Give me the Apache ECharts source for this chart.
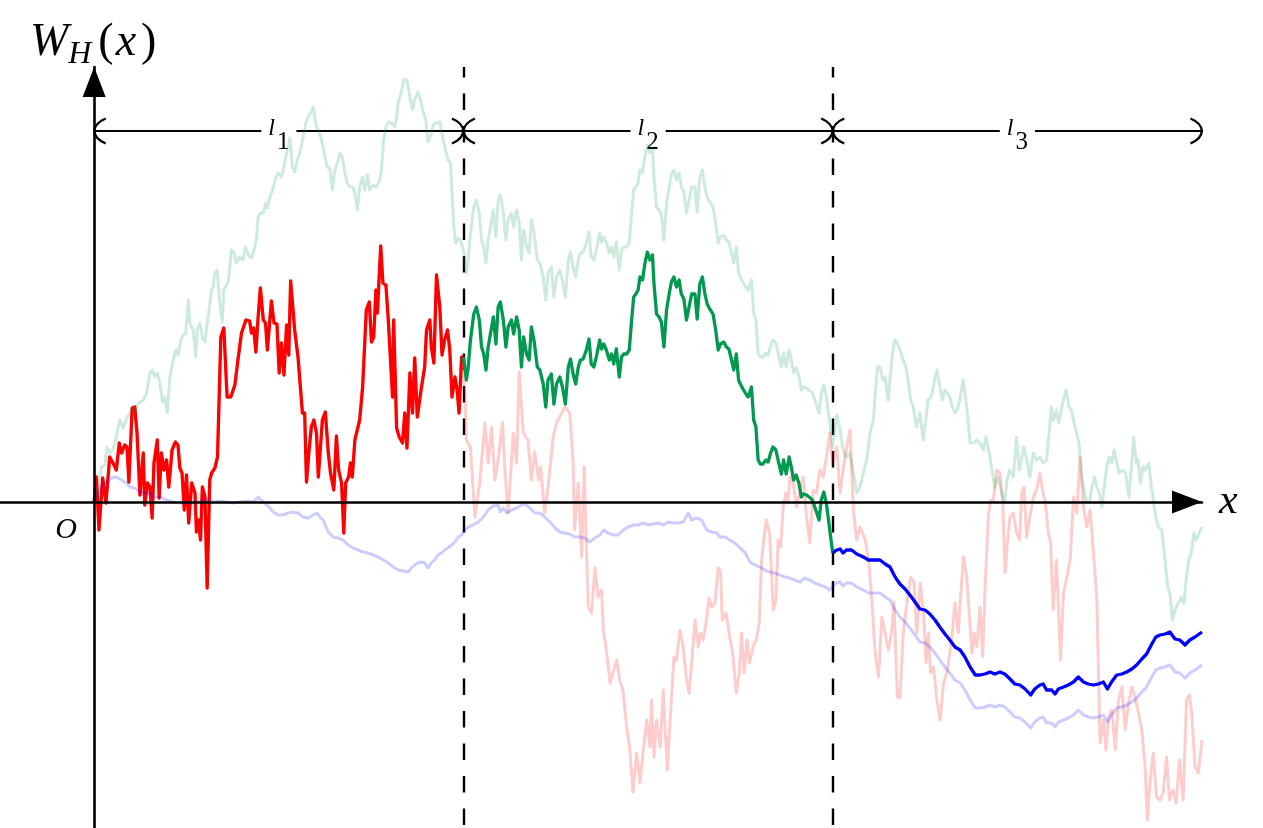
<!DOCTYPE html>
<html>
<head>
<meta charset="utf-8">
<script src="https://cdn.jsdelivr.net/npm/echarts@6/dist/echarts.min.js"></script>
<style>
  html, body { margin: 0; padding: 0; background: #fff; }
  #main { width: 1263px; height: 828px; }
</style>
</head>
<body>
<div id="main"></div>
<script>
// three sample paths of W_H(x) (x in units of one segment l)
const redPath = [
  [0,0],[0.006,0.25],[0.013,-0.28],[0.023,0.24],[0.032,-0.01],[0.042,0.45],[0.051,0.39],[0.060,0.32],[0.068,0.59],[0.074,0.49],
  [0.083,0.57],[0.089,0.55],[0.094,0.20],[0.103,0.94],[0.110,0.95],[0.116,0.69],[0.124,0.07],[0.133,0.49],[0.137,-0.03],[0.144,0.19],
  [0.151,0.15],[0.157,-0.16],[0.162,0.39],[0.171,0.62],[0.176,0.04],[0.182,0.49],[0.189,0.32],[0.196,0.42],[0.202,0.15],[0.211,0.52],
  [0.220,0.60],[0.227,0.57],[0.232,0.34],[0.238,0.29],[0.244,-0.08],[0.250,0.27],[0.256,-0.21],[0.264,0.19],[0.273,0.09],[0.277,-0.30],
  [0.283,-0.18],[0.288,-0.38],[0.293,0.15],[0.300,0.05],[0.306,-0.86],[0.313,0.22],[0.318,0.29],[0.327,0.34],[0.334,0.45],[0.343,1.65],
  [0.351,1.74],[0.360,1.05],[0.370,1.05],[0.381,1.17],[0.390,1.44],[0.399,1.69],[0.411,1.82],[0.421,1.81],[0.426,1.69],[0.432,1.74],
  [0.438,1.50],[0.444,1.85],[0.450,2.14],[0.458,1.82],[0.464,1.79],[0.469,1.52],[0.480,2.01],[0.487,1.79],[0.495,1.78],[0.501,1.29],
  [0.507,1.59],[0.514,1.27],[0.521,1.77],[0.527,1.47],[0.532,2.21],[0.543,1.72],[0.552,1.45],[0.564,0.89],[0.570,0.89],[0.575,0.20],
  [0.582,0.52],[0.588,0.75],[0.595,0.82],[0.602,0.69],[0.607,0.25],[0.618,0.82],[0.626,0.90],[0.634,0.49],[0.640,0.29],[0.649,0.12],
  [0.656,0.66],[0.662,0.32],[0.670,0.19],[0.676,-0.31],[0.681,0.19],[0.689,0.25],[0.694,0.39],[0.699,0.25],[0.706,0.62],[0.719,0.82],
  [0.727,1.15],[0.737,1.92],[0.745,2.00],[0.751,1.60],[0.757,1.65],[0.763,2.12],[0.767,1.89],[0.776,2.56],[0.782,2.19],[0.790,2.17],
  [0.796,1.85],[0.808,1.05],[0.811,1.82],[0.819,0.74],[0.826,0.65],[0.835,0.59],[0.841,0.89],[0.847,0.54],[0.855,1.29],[0.862,0.89],
  [0.868,1.44],[0.875,0.85],[0.886,1.14],[0.895,1.35],[0.900,1.72],[0.909,1.82],[0.913,1.55],[0.920,1.39],[0.927,2.27],[0.936,1.95],
  [0.942,1.47],[0.949,1.62],[0.957,1.72],[0.963,1.52],[0.969,1.05],[0.977,1.25],[0.983,1.12],[0.988,0.89],[0.995,1.45],[1,1.45],
  [1.004,1.09],[1.008,0.62],[1.019,0.55],[1.031,-0.15],[1.045,0.22],[1.058,0.79],[1.067,0.39],[1.076,0.75],[1.085,0.22],[1.094,0.42],
  [1.106,0.80],[1.112,0.32],[1.121,-0.11],[1.135,0.69],[1.144,0.39],[1.151,1.30],[1.162,0.69],[1.175,0.62],[1.184,0.22],[1.193,0.50],
  [1.203,0.22],[1.209,0.35],[1.220,-0.11],[1.229,0.15],[1.243,0.65],[1.252,0.79],[1.275,0.95],[1.288,0.89],[1.297,0.39],[1.301,-0.28],
  [1.311,0.19],[1.320,-0.55],[1.327,0.35],[1.333,-0.45],[1.338,-1.05],[1.347,-1.11],[1.356,-0.66],[1.365,-0.95],[1.374,-0.88],[1.379,-1.28],
  [1.388,-1.51],[1.397,-1.81],[1.405,-1.71],[1.415,-1.58],[1.423,-1.78],[1.432,-1.88],[1.442,-2.25],[1.450,-2.45],[1.459,-2.90],[1.469,-2.51],
  [1.478,-2.81],[1.487,-2.48],[1.496,-2.18],[1.505,-2.45],[1.509,-1.98],[1.516,-2.55],[1.523,-2.18],[1.533,-2.45],[1.541,-1.88],[1.552,-2.68],
  [1.561,-2.11],[1.570,-1.55],[1.577,-1.58],[1.586,-1.28],[1.595,-1.45],[1.604,-1.78],[1.611,-1.91],[1.618,-1.61],[1.627,-1.18],[1.636,-1.45],
  [1.642,-1.31],[1.649,-1.38],[1.658,-1.18],[1.665,-0.96],[1.672,-1.05],[1.681,-1.01],[1.690,-0.66],[1.696,-0.68],[1.701,-1.18],[1.711,-1.11],
  [1.721,-1.35],[1.729,-1.51],[1.739,-1.91],[1.747,-1.71],[1.753,-1.31],[1.760,-1.71],[1.768,-1.38],[1.775,-1.61],[1.784,-1.45],[1.793,-1.38],
  [1.801,-1.21],[1.807,-0.61],[1.811,-0.45],[1.820,-0.18],[1.829,-0.31],[1.839,-1.08],[1.846,-0.98],[1.852,-0.38],[1.859,-0.45],[1.866,-0.05],
  [1.873,0.09],[1.879,-0.01],[1.884,0.25],[1.893,0.19],[1.902,-0.05],[1.911,0.09],[1.920,0.25],[1.929,-0.15],[1.938,-0.41],[1.947,0.12],
  [1.956,0.09],[1.965,0.32],[1.974,0.25],[1.983,0.45],[1.992,0.69],[2,0.39],
  [2.011,0.55],[2.020,0.09],[2.033,0.45],[2.047,0.72],[2.056,-0.08],[2.065,-0.38],[2.074,-0.25],[2.088,-0.38],[2.097,-0.58],[2.106,-0.98],
  [2.115,-1.51],[2.124,-1.75],[2.133,-1.15],[2.142,-1.31],[2.151,-1.48],[2.160,-1.28],[2.166,-1.00],[2.175,-1.95],[2.182,-1.96],[2.191,-1.31],
  [2.202,-0.98],[2.211,-0.75],[2.220,-0.80],[2.228,-1.31],[2.237,-0.81],[2.246,-1.11],[2.253,-1.61],[2.259,-1.31],[2.265,-1.71],[2.273,-1.65],
  [2.282,-1.98],[2.291,-2.18],[2.300,-1.81],[2.309,-1.71],[2.322,-1.38],[2.331,-1.01],[2.340,-1.31],[2.345,-1.01],[2.354,-0.55],[2.363,-0.75],
  [2.377,-1.51],[2.383,-1.31],[2.390,-1.45],[2.399,-1.05],[2.406,-1.55],[2.413,-0.81],[2.422,-0.11],[2.428,0.02],[2.435,0.02],[2.444,0.32],
  [2.453,0.29],[2.460,0.02],[2.467,-0.71],[2.473,-0.41],[2.480,-0.15],[2.489,-0.11],[2.498,-0.31],[2.506,-0.38],[2.512,0.09],[2.518,0.15],
  [2.525,-0.35],[2.534,-0.15],[2.543,0.05],[2.552,0.12],[2.561,0.29],[2.569,0.09],[2.575,0.02],[2.584,-0.31],[2.590,-0.41],[2.597,-1.08],
  [2.606,-0.58],[2.617,-1.58],[2.625,-0.91],[2.634,-0.75],[2.643,-0.58],[2.652,0.05],[2.661,-0.11],[2.670,0.45],[2.679,-0.05],[2.688,-0.25],
  [2.697,-0.08],[2.706,-0.51],[2.715,-0.95],[2.724,-2.41],[2.733,-2.18],[2.740,-2.48],[2.747,-2.15],[2.756,-2.08],[2.765,-2.48],[2.774,-1.98],
  [2.783,-1.85],[2.792,-2.28],[2.801,-2.01],[2.810,-1.85],[2.819,-1.95],[2.828,-2.11],[2.837,-2.28],[2.846,-2.65],[2.852,-3.18],[2.859,-2.81],
  [2.868,-2.51],[2.877,-2.95],[2.886,-2.98],[2.895,-2.91],[2.904,-2.55],[2.912,-2.98],[2.921,-2.88],[2.930,-3.01],[2.939,-2.58],[2.949,-2.98],
  [2.958,-1.98],[2.966,-1.93],[2.972,-2.11],[2.981,-2.65],[2.990,-2.71],[3,-2.38]
];

const greenPath = [
  [0,0],[0.011,0.15],[0.020,0.35],[0.029,0.37],[0.035,0.55],[0.042,0.49],[0.051,0.52],[0.060,0.65],[0.069,0.82],[0.079,0.74],
  [0.088,0.84],[0.097,0.89],[0.104,0.95],[0.110,0.90],[0.116,0.97],[0.124,1.00],[0.133,1.02],[0.142,1.09],[0.151,1.29],[0.158,1.32],
  [0.164,1.25],[0.171,1.29],[0.178,1.19],[0.185,1.00],[0.191,1.05],[0.198,0.89],[0.205,1.25],[0.214,1.42],[0.221,1.52],[0.227,1.47],
  [0.235,1.62],[0.241,1.67],[0.248,1.69],[0.255,2.02],[0.259,1.79],[0.268,1.72],[0.275,1.45],[0.279,1.72],[0.286,1.79],[0.293,1.65],
  [0.300,1.60],[0.307,1.82],[0.311,1.92],[0.318,2.12],[0.322,2.15],[0.327,2.29],[0.333,2.32],[0.340,1.99],[0.347,1.80],[0.351,2.12],
  [0.358,2.17],[0.363,2.20],[0.372,2.52],[0.378,2.50],[0.385,2.39],[0.394,2.45],[0.403,2.42],[0.410,2.55],[0.417,2.47],[0.426,2.44],
  [0.435,2.55],[0.440,2.65],[0.444,2.85],[0.450,2.89],[0.458,2.89],[0.465,2.99],[0.469,2.94],[0.476,3.05],[0.485,3.14],[0.492,3.25],
  [0.498,3.29],[0.507,3.25],[0.512,3.32],[0.519,3.45],[0.525,3.55],[0.530,3.64],[0.537,3.35],[0.543,3.30],[0.550,3.42],[0.557,3.49],
  [0.566,3.65],[0.573,3.79],[0.579,3.85],[0.588,3.90],[0.593,3.95],[0.600,3.79],[0.606,3.72],[0.616,3.62],[0.625,3.45],[0.631,3.35],
  [0.638,3.34],[0.645,3.12],[0.652,3.32],[0.659,3.39],[0.665,3.49],[0.672,3.45],[0.679,3.29],[0.685,3.19],[0.692,3.15],[0.701,3.15],
  [0.708,3.05],[0.713,2.92],[0.719,3.15],[0.727,3.25],[0.733,3.12],[0.740,3.27],[0.746,3.12],[0.755,3.17],[0.764,3.15],[0.773,3.22],
  [0.778,3.32],[0.784,3.62],[0.790,3.75],[0.796,3.80],[0.805,3.79],[0.814,3.75],[0.819,3.85],[0.823,3.99],[0.832,4.10],[0.838,4.22],
  [0.847,4.22],[0.855,4.05],[0.862,3.92],[0.868,4.02],[0.877,4.10],[0.884,4.02],[0.891,3.90],[0.898,3.82],[0.904,3.60],[0.912,3.67],
  [0.918,3.77],[0.927,3.79],[0.936,3.80],[0.945,3.62],[0.952,3.52],[0.958,3.42],[0.965,3.39],[0.970,3.02],[0.974,2.75],[0.979,2.59],
  [0.986,2.64],[0.992,2.62],[1,2.52],
  [1.008,2.29],[1.013,2.42],[1.019,2.69],[1.028,2.95],[1.035,3.02],[1.043,2.89],[1.049,2.62],[1.055,2.55],[1.061,2.39],[1.067,2.62],
  [1.073,2.75],[1.081,2.92],[1.088,2.65],[1.094,3.02],[1.100,3.07],[1.108,2.89],[1.115,2.62],[1.121,2.82],[1.130,2.89],[1.136,2.75],
  [1.144,2.92],[1.151,2.79],[1.157,2.42],[1.163,2.72],[1.171,2.55],[1.178,2.49],[1.184,2.82],[1.191,2.69],[1.200,2.42],[1.207,2.39],
  [1.216,2.25],[1.223,2.02],[1.229,2.29],[1.238,2.35],[1.245,2.05],[1.252,2.25],[1.261,2.32],[1.268,2.22],[1.276,2.05],[1.284,2.42],
  [1.290,2.50],[1.297,2.35],[1.304,2.25],[1.311,2.42],[1.317,2.49],[1.324,2.50],[1.333,2.59],[1.340,2.70],[1.346,2.45],[1.353,2.42],
  [1.360,2.52],[1.369,2.69],[1.374,2.60],[1.380,2.65],[1.387,2.59],[1.395,2.49],[1.401,2.55],[1.407,2.45],[1.414,2.60],[1.422,2.32],
  [1.428,2.52],[1.434,2.55],[1.442,2.55],[1.449,2.59],[1.455,2.87],[1.461,3.12],[1.467,3.15],[1.473,3.19],[1.478,3.32],[1.485,3.29],
  [1.491,3.45],[1.498,3.57],[1.505,3.49],[1.512,3.54],[1.516,3.25],[1.523,2.95],[1.530,2.92],[1.536,2.87],[1.543,2.62],[1.550,2.99],
  [1.557,3.15],[1.563,3.27],[1.570,3.32],[1.577,3.22],[1.584,3.29],[1.590,3.15],[1.597,3.10],[1.604,2.89],[1.611,3.02],[1.618,3.15],
  [1.627,3.15],[1.633,2.90],[1.640,3.25],[1.647,3.32],[1.654,3.15],[1.660,3.05],[1.667,3.00],[1.676,2.95],[1.683,2.79],[1.690,2.59],
  [1.696,2.65],[1.705,2.67],[1.712,2.62],[1.719,2.60],[1.726,2.49],[1.732,2.39],[1.739,2.55],[1.745,2.29],[1.750,2.25],[1.757,2.20],
  [1.765,2.15],[1.771,2.12],[1.780,2.22],[1.786,1.89],[1.792,1.82],[1.798,1.49],[1.804,1.45],[1.811,1.45],[1.819,1.49],[1.825,1.47],
  [1.831,1.55],[1.838,1.62],[1.846,1.59],[1.852,1.49],[1.861,1.35],[1.867,1.49],[1.874,1.35],[1.882,1.52],[1.888,1.42],[1.894,1.29],
  [1.901,1.34],[1.909,1.25],[1.915,1.12],[1.921,1.15],[1.929,1.14],[1.936,1.12],[1.945,1.09],[1.954,0.99],[1.963,0.89],[1.969,1.09],
  [1.976,1.17],[1.983,1.05],[1.990,0.85],[1.995,0.70],[2,0.56],
  [2.011,0.87],[2.020,0.72],[2.028,0.52],[2.037,0.45],[2.046,0.49],[2.056,0.29],[2.065,0.09],[2.074,0.15],[2.083,0.29],[2.092,0.42],
  [2.101,0.69],[2.110,0.82],[2.114,1.02],[2.121,1.35],[2.128,1.35],[2.135,1.22],[2.142,1.25],[2.150,1.02],[2.155,1.22],[2.162,1.49],
  [2.168,1.62],[2.175,1.59],[2.182,1.52],[2.191,1.42],[2.198,1.35],[2.204,1.22],[2.211,1.02],[2.218,0.95],[2.227,0.75],[2.236,0.89],
  [2.245,0.62],[2.252,0.82],[2.258,1.02],[2.267,1.05],[2.276,1.22],[2.282,1.32],[2.290,1.15],[2.297,1.02],[2.303,1.12],[2.310,1.09],
  [2.317,1.05],[2.324,0.95],[2.331,0.89],[2.337,0.92],[2.344,1.02],[2.353,1.22],[2.363,0.95],[2.372,0.59],[2.381,0.59],[2.390,0.62],
  [2.399,0.59],[2.408,0.52],[2.415,0.65],[2.421,0.55],[2.430,0.35],[2.439,0.15],[2.448,0.25],[2.457,0.09],[2.466,-0.01],[2.472,0.22],
  [2.479,0.32],[2.489,0.25],[2.498,0.65],[2.505,0.32],[2.511,0.42],[2.517,0.55],[2.524,0.45],[2.534,0.25],[2.543,0.49],[2.552,0.42],
  [2.561,0.45],[2.570,0.39],[2.579,0.42],[2.586,0.69],[2.592,0.95],[2.598,0.82],[2.606,0.92],[2.612,0.79],[2.619,0.92],[2.625,1.02],
  [2.632,1.12],[2.640,0.95],[2.646,0.92],[2.652,0.82],[2.660,0.69],[2.667,0.59],[2.673,0.29],[2.679,0.15],[2.686,0.02],[2.695,-0.01],
  [2.702,0.15],[2.709,0.25],[2.715,0.15],[2.722,0.09],[2.729,-0.05],[2.735,0.15],[2.742,0.35],[2.749,0.45],[2.756,0.39],[2.762,0.52],
  [2.768,0.42],[2.775,0.29],[2.784,0.32],[2.793,0.29],[2.802,0.05],[2.809,0.35],[2.815,0.65],[2.822,0.39],[2.827,0.42],[2.833,0.19],
  [2.840,0.35],[2.847,0.32],[2.856,0.39],[2.863,0.15],[2.869,-0.01],[2.875,-0.15],[2.882,-0.25],[2.891,-0.28],[2.900,-0.58],[2.907,-0.85],
  [2.913,-0.91],[2.920,-1.18],[2.927,-1.08],[2.936,-1.01],[2.944,-0.95],[2.951,-1.01],[2.958,-0.75],[2.964,-0.58],[2.971,-0.51],[2.978,-0.31],
  [2.984,-0.38],[3,-0.25]
];

const bluePath = [
  [0,0],[0.011,0.09],[0.020,0.15],[0.033,0.20],[0.047,0.24],[0.060,0.25],[0.074,0.22],[0.088,0.19],[0.097,0.15],[0.110,0.14],
  [0.124,0.10],[0.137,0.09],[0.151,0.09],[0.160,0.05],[0.178,0.05],[0.196,0.02],[0.214,0.00],[0.232,-0.01],[0.250,-0.01],[0.268,0.00],
  [0.286,0.01],[0.304,0.02],[0.322,0.00],[0.340,0.01],[0.358,0.00],[0.376,-0.01],[0.394,0.00],[0.412,0.01],[0.431,0.00],[0.444,0.05],
  [0.458,0.00],[0.467,-0.03],[0.476,-0.06],[0.485,-0.10],[0.498,-0.13],[0.512,-0.13],[0.525,-0.11],[0.539,-0.10],[0.552,-0.11],[0.566,-0.15],
  [0.579,-0.16],[0.593,-0.13],[0.604,-0.11],[0.611,-0.15],[0.620,-0.18],[0.634,-0.30],[0.647,-0.35],[0.661,-0.36],[0.674,-0.38],[0.688,-0.43],
  [0.701,-0.46],[0.715,-0.48],[0.728,-0.50],[0.742,-0.51],[0.755,-0.53],[0.769,-0.55],[0.783,-0.58],[0.796,-0.61],[0.810,-0.65],[0.823,-0.68],
  [0.837,-0.69],[0.850,-0.70],[0.859,-0.66],[0.868,-0.63],[0.877,-0.61],[0.886,-0.60],[0.895,-0.61],[0.904,-0.66],[0.913,-0.61],[0.922,-0.58],
  [0.931,-0.53],[0.940,-0.51],[0.949,-0.48],[0.958,-0.46],[0.968,-0.43],[0.977,-0.40],[0.986,-0.35],[0.995,-0.33],[1,-0.30],
  [1.013,-0.25],[1.026,-0.23],[1.040,-0.20],[1.054,-0.15],[1.067,-0.08],[1.081,-0.04],[1.094,-0.03],[1.100,-0.10],[1.108,-0.06],[1.117,-0.11],
  [1.130,-0.08],[1.144,-0.06],[1.157,-0.03],[1.166,-0.02],[1.180,-0.06],[1.193,-0.11],[1.207,-0.11],[1.220,-0.15],[1.234,-0.20],[1.248,-0.26],
  [1.261,-0.30],[1.275,-0.31],[1.288,-0.32],[1.302,-0.35],[1.315,-0.35],[1.329,-0.36],[1.342,-0.40],[1.356,-0.36],[1.369,-0.33],[1.380,-0.28],
  [1.392,-0.31],[1.405,-0.33],[1.419,-0.33],[1.433,-0.28],[1.446,-0.25],[1.460,-0.23],[1.473,-0.23],[1.487,-0.21],[1.500,-0.23],[1.514,-0.22],
  [1.527,-0.21],[1.541,-0.23],[1.555,-0.20],[1.568,-0.21],[1.581,-0.21],[1.595,-0.20],[1.609,-0.11],[1.618,-0.18],[1.631,-0.16],[1.645,-0.18],
  [1.659,-0.28],[1.672,-0.30],[1.686,-0.31],[1.694,-0.35],[1.708,-0.35],[1.721,-0.38],[1.735,-0.41],[1.749,-0.46],[1.762,-0.50],[1.776,-0.60],
  [1.789,-0.63],[1.803,-0.65],[1.816,-0.68],[1.830,-0.70],[1.843,-0.71],[1.857,-0.73],[1.870,-0.75],[1.884,-0.76],[1.897,-0.78],[1.911,-0.80],
  [1.924,-0.76],[1.938,-0.78],[1.951,-0.81],[1.965,-0.83],[1.979,-0.85],[1.992,-0.88],[2,-0.84],
  [2.011,-0.81],[2.020,-0.80],[2.028,-0.84],[2.037,-0.81],[2.051,-0.81],[2.065,-0.85],[2.083,-0.88],[2.097,-0.91],[2.110,-0.91],[2.128,-0.91],
  [2.142,-0.95],[2.155,-0.98],[2.169,-1.08],[2.182,-1.15],[2.196,-1.20],[2.209,-1.26],[2.223,-1.33],[2.236,-1.40],[2.250,-1.41],[2.263,-1.45],
  [2.277,-1.51],[2.290,-1.58],[2.304,-1.65],[2.317,-1.71],[2.331,-1.78],[2.345,-1.81],[2.358,-1.88],[2.372,-1.98],[2.386,-2.06],[2.399,-2.06],
  [2.412,-2.05],[2.426,-2.03],[2.439,-2.05],[2.453,-2.03],[2.466,-2.05],[2.480,-2.10],[2.493,-2.15],[2.507,-2.16],[2.521,-2.20],[2.536,-2.26],
  [2.547,-2.20],[2.561,-2.16],[2.570,-2.15],[2.579,-2.21],[2.593,-2.21],[2.602,-2.25],[2.611,-2.20],[2.625,-2.18],[2.638,-2.16],[2.652,-2.13],
  [2.665,-2.08],[2.679,-2.13],[2.692,-2.15],[2.706,-2.16],[2.719,-2.15],[2.733,-2.13],[2.744,-2.20],[2.755,-2.13],[2.769,-2.06],[2.783,-2.05],
  [2.796,-2.03],[2.810,-2.00],[2.823,-1.96],[2.837,-1.90],[2.850,-1.85],[2.864,-1.75],[2.875,-1.68],[2.886,-1.66],[2.900,-1.65],[2.913,-1.63],
  [2.927,-1.70],[2.940,-1.71],[2.954,-1.76],[2.967,-1.71],[2.981,-1.68],[3,-1.63]
];

const segmentEnds = [0, 1, 2, 3];
const segmentNames = ['1', '2', '3'];
const xRange = [-0.255, 3];
const yRange = [-3.26, 4.35];
const braceLevel = 3.71;

const serif = 'Liberation Serif';
const valueAt = (path, x) => path.find(p => p[0] === x)[1];
const between = (path, a, b) => path.filter(p => p[0] >= a && p[0] <= b);

// the bold curve glues the three paths end to end
const redBold = between(redPath, 0, 1);
const greenShift = valueAt(redPath, 1) - valueAt(greenPath, 1);
const greenBold = between(greenPath, 1, 2).map(p => [p[0], p[1] + greenShift]);
const blueShift = valueAt(greenBold, 2) - valueAt(bluePath, 2);
const blueBold = between(bluePath, 2, 3).map(p => [p[0], p[1] + blueShift]);

function pathSeries(data, color, opacity, width) {
  return {
    type: 'line', data: data, symbol: 'none', silent: true, animation: false, z: 3,
    lineStyle: { color: color, width: width, opacity: opacity, join: 'round' }
  };
}

// open arrow head, tip at the centre of the box
const tipPath = 'path://M13.5 0L13.5 0.01M13.5 10.8Q5 11.4 0 22.8L2 23.8Q6.4 13.6 13.5 13.2Q20.6 13.6 25 23.8L27 22.8Q22 11.4 13.5 10.8Z';

const chart = echarts.init(document.getElementById('main'));
chart.setOption({
  backgroundColor: '#fff',
  animation: false,
  grid: { left: 0, right: 61, top: 67, bottom: 0, outerBoundsMode: 'none' },
  xAxis: {
    type: 'value', min: xRange[0], max: xRange[1], z: 4,
    axisLine: { onZero: true, lineStyle: { color: '#000', width: 2.6 },
      symbol: ['none', 'triangle'], symbolSize: [23, 30], symbolOffset: [0, -15] },
    axisTick: { show: false }, axisLabel: { show: false }, splitLine: { show: false },
    name: 'x', nameLocation: 'end', nameGap: 17,
    nameTextStyle: { fontFamily: serif, fontStyle: 'italic', fontSize: 42, color: '#000', padding: [0, 0, 10, 0] }
  },
  yAxis: {
    type: 'value', min: yRange[0], max: yRange[1], z: 4,
    axisLine: { onZero: true, lineStyle: { color: '#000', width: 2.6 },
      symbol: ['none', 'triangle'], symbolSize: [23, 30], symbolOffset: [0, -15] },
    axisTick: { show: false }, axisLabel: { show: false }, splitLine: { show: false },
    name: '{it|W}{sub|H}{up|(}{it|x}{up|)}', nameLocation: 'end', nameGap: -3,
    nameTextStyle: {
      color: '#000',
      rich: {
        it: { fontFamily: serif, fontStyle: 'italic', fontSize: 46, lineHeight: 50, verticalAlign: 'top', color: '#000' },
        up: { fontFamily: serif, fontSize: 46, lineHeight: 50, verticalAlign: 'top', color: '#000', padding: [0, 2, 0, 5] },
        sub: { fontFamily: serif, fontStyle: 'italic', fontSize: 32, lineHeight: 32, verticalAlign: 'top', padding: [19, 2, 0, 0], color: '#000' }
      }
    }
  },
  series: [
    pathSeries(redBold, '#ff0000', 1, 3.3),
    pathSeries(redPath, '#ff0000', 0.2, 3),
    pathSeries(greenPath, '#00994f', 0.2, 3),
    pathSeries(greenBold, '#00994f', 1, 3.3),
    pathSeries(bluePath, '#0000ff', 0.2, 3),
    pathSeries(blueBold, '#0000ff', 1, 3.3),
    {
      type: 'line', data: [], silent: true, animation: false,
      markLine: {
        silent: true, animation: false, symbol: 'none', label: { show: false }, z: 1,
        lineStyle: { color: '#000', width: 2.4, type: [16.5, 16], dashOffset: 6 },
        data: segmentEnds.slice(1, 3).map(x => [{ coord: [x, yRange[1]] }, { coord: [x, yRange[0]] }])
      }
    },
    {
      type: 'line', data: [], silent: true, animation: false,
      markLine: {
        silent: true, animation: false, z: 1, symbol: [tipPath, tipPath], symbolSize: [27, 24],
        label: { show: false },
        lineStyle: { color: '#000', width: 2, type: 'solid' },
        data: segmentNames.map((n, i) => [
          { coord: [segmentEnds[i], braceLevel] },
          { coord: [segmentEnds[i + 1], braceLevel] }
        ])
      }
    },
    {
      type: 'line', data: [], silent: true, animation: false,
      markPoint: {
        silent: true, animation: false, z: 2, symbol: 'circle', symbolSize: 1,
        itemStyle: { color: 'rgba(0,0,0,0)' },
        data: segmentNames.map((n, i) => ({
          coord: [(segmentEnds[i] + segmentEnds[i + 1]) / 2, braceLevel],
          label: {
            show: true, position: 'inside', formatter: '{ell|l}{num|' + n + '}',
            fontFamily: serif, fontSize: 24, color: '#000', offset: [0, -4],
            backgroundColor: '#fff', padding: [0, 7, 0, 7],
            rich: {
              ell: { fontFamily: serif, fontStyle: 'italic', fontSize: 24, lineHeight: 20, verticalAlign: 'top', color: '#000' },
              num: { fontFamily: serif, fontSize: 25, lineHeight: 20, verticalAlign: 'top', padding: [13, 0, 0, 2], color: '#000' }
            }
          }
        })).concat([{
          coord: [0, 0],
          label: { show: true, position: 'inside', formatter: 'O', offset: [-28, 28],
            fontFamily: serif, fontStyle: 'italic', fontSize: 30, color: '#000' }
        }])
      }
    }
  ]
});
</script>
</body>
</html>
